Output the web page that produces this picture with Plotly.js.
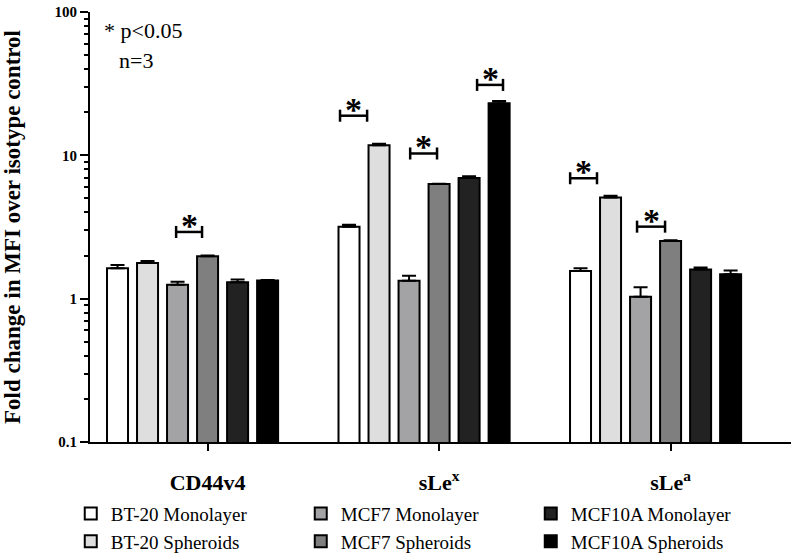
<!DOCTYPE html>
<html><head><meta charset="utf-8">
<script src="https://cdn.plot.ly/plotly-3.0.1.min.js"></script>
<style>html,body{margin:0;padding:0;background:#fff}#chart{width:795px;height:557px}</style>
</head><body><div id="chart"></div>
<script>
// ---- data ----
const categories = ['CD44v4', 'sLe<sup>x</sup>', 'sLe<sup>a</sup>'];
const seriesNames = ['BT-20 Monolayer', 'BT-20 Spheroids', 'MCF7 Monolayer', 'MCF7 Spheroids', 'MCF10A Monolayer', 'MCF10A Spheroids'];
const bt20Mono = [1.63, 3.18, 1.56];
const bt20Sph = [1.77, 11.75, 5.07];
const mcf7Mono = [1.25, 1.335, 1.03];
const mcf7Sph = [1.98, 6.31, 2.53];
const mcf10aMono = [1.30, 6.95, 1.60];
const mcf10aSph = [1.34, 23.07, 1.48];
const bt20MonoErr = [0.09, 0.10, 0.07];
const bt20SphErr = [0.06, 0.30, 0.15];
const mcf7MonoErr = [0.06, 0.11, 0.17];
const mcf7SphErr = [0.02, 0.03, 0.03];
const mcf10aMonoErr = [0.06, 0.20, 0.05];
const mcf10aSphErr = [0.01, 0.90, 0.09];
const yTickVals = [0.1, 1, 10, 100];
const yTickText = ['0.1', '1', '10', '100'];
// significance brackets: category index, left/right ends (relative to category), level
const sigCat = [0, 1, 1, 1, 2, 2];
const sigLeft = [-0.071, -0.363, -0.060, 0.229, -0.369, -0.080];
const sigRight = [0.041, -0.246, 0.056, 0.341, -0.253, 0.041];
const sigLevel = [2.92, 18.9, 10.3, 31.0, 6.92, 3.18];

// ---- styling ----
const values = [bt20Mono, bt20Sph, mcf7Mono, mcf7Sph, mcf10aMono, mcf10aSph];
const errs = [bt20MonoErr, bt20SphErr, mcf7MonoErr, mcf7SphErr, mcf10aMonoErr, mcf10aSphErr];
const colors = ['#ffffff', '#dedede', '#a3a3a6', '#7f7f7f', '#222222', '#000000'];
const ranks = [1, 4, 2, 5, 3, 6];
const FONT = 'Liberation Serif, Times New Roman, serif';
const catIdx = categories.map((c, i) => i);
const tickShift = 0.065;

const traces = values.map((v, i) => ({
  type: 'bar',
  name: seriesNames[i],
  x: catIdx,
  y: v,
  legendrank: ranks[i],
  marker: {color: colors[i], line: {color: '#000', width: 2}},
  error_y: {type: 'data', symmetric: false, array: errs[i], arrayminus: v.map(() => 0),
            color: '#000', thickness: 2, width: 7},
  hoverinfo: 'skip'
}));

const annotations = [
  {xref: 'paper', yref: 'paper', x: 0.017, y: 0.99, xanchor: 'left', yanchor: 'top',
   text: '* p&lt;0.05', showarrow: false, font: {family: FONT, size: 22, color: '#000'}},
  {xref: 'paper', yref: 'paper', x: 0.038, y: 0.92, xanchor: 'left', yanchor: 'top',
   text: 'n=3', showarrow: false, font: {family: FONT, size: 22, color: '#000'}}
];
const f = Math.pow(10, 0.042);
sigCat.forEach((c, k) => {
  const x0 = c + sigLeft[k], x1 = c + sigRight[k], yv = sigLevel[k];
  traces.push({
    type: 'scatter', mode: 'lines', showlegend: false, hoverinfo: 'skip',
    x: [x0, x0, null, x0, x1, null, x1, x1],
    y: [yv / f, yv * f, null, yv, yv, null, yv / f, yv * f],
    line: {color: '#000', width: 2.5}
  });
  annotations.push({
    xref: 'x', yref: 'y', x: (x0 + x1) / 2, y: Math.log10(yv), yanchor: 'bottom', xanchor: 'center',
    yshift: -14, text: '*', showarrow: false,
    font: {family: FONT, size: 34, weight: 'bold', color: '#000'}
  });
});

const layout = {
  width: 795, height: 557, autosize: false,
  margin: {l: 90, r: 4, t: 12, b: 115},
  paper_bgcolor: '#fff', plot_bgcolor: '#fff',
  barmode: 'group', bargap: 0.222, bargroupgap: 0.3,
  font: {family: FONT, color: '#000'},
  showlegend: true,
  legend: {orientation: 'h', xref: 'container', x: 0.089, xanchor: 'left',
           yref: 'container', y: 0.112, yanchor: 'top',
           entrywidth: 185, entrywidthmode: 'pixels', traceorder: 'normal',
           font: {family: FONT, size: 19, color: '#000'}, bgcolor: 'rgba(0,0,0,0)'},
  xaxis: {type: 'linear', range: [-0.443, 2.585], showgrid: false, zeroline: false,
          showline: true, linecolor: '#000', linewidth: 2, automargin: false,
          tickmode: 'array', tickvals: catIdx.map(i => i + tickShift), ticktext: categories,
          ticks: 'outside', ticklen: 7, tickwidth: 2, tickcolor: '#000',
          tickfont: {family: FONT, size: 22, weight: 'bold', color: '#000'}, ticklabelstandoff: 13},
  yaxis: {type: 'log', range: [-1, 2], showgrid: false, zeroline: false,
          showline: true, linecolor: '#000', linewidth: 2, automargin: false,
          tickmode: 'array', tickvals: yTickVals, ticktext: yTickText,
          ticks: 'outside', ticklen: 8, tickwidth: 2, tickcolor: '#000',
          minor: {ticks: 'outside', ticklen: 4, tickwidth: 2, tickcolor: '#000', dtick: 'D1', showgrid: false},
          tickfont: {family: FONT, size: 15, weight: 'bold', color: '#000'},
          title: {text: 'Fold change in MFI over isotype control', standoff: 30,
                  font: {family: FONT, size: 23, weight: 'bold', color: '#000'}}},
  annotations: annotations
};

Plotly.newPlot('chart', traces, layout, {displayModeBar: false, staticPlot: true});
</script></body></html>
